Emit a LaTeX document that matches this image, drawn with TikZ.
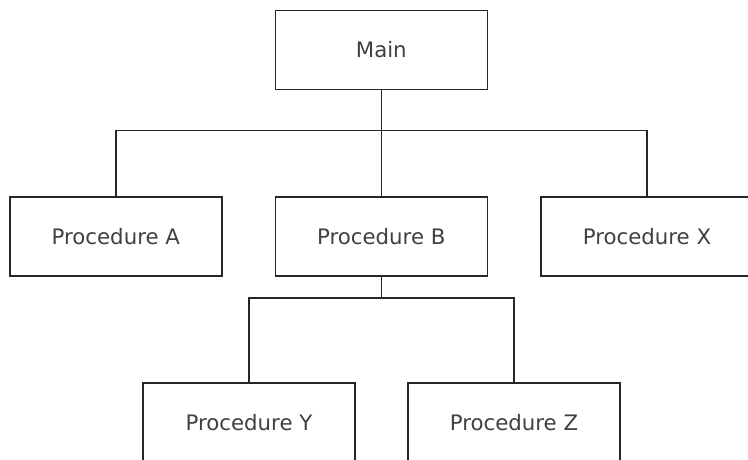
\documentclass[tikz,border=0pt]{standalone}
\usepackage{fontspec}
\setmainfont{DejaVu Sans}
\begin{document}
\begin{tikzpicture}[x=1pt,y=-1pt,
  procbox/.style={draw=black!85, line width=1.6pt, fill=white,
    minimum width=212pt, minimum height=79pt, inner sep=0pt,
    text=black!75, font=\fontsize{21.3pt}{25pt}\selectfont},
  link/.style={draw=black!85, line width=1.6pt}]
  \useasboundingbox (0,0) rectangle (748,459);
  \clip (0,0) rectangle (748,459);
  \fill[white] (0,0) rectangle (748,459);

  % boxes
  \node[procbox] (main) at (381.3,50)  {Main};
  \node[procbox] (pa)   at (115.8,236.3) {Procedure A};
  \node[procbox] (pb)   at (381.3,236.3) {Procedure B};
  \node[procbox] (px)   at (647.0,236.3) {Procedure X};
  \node[procbox] (py)   at (249.0,422.2) {Procedure Y};
  \node[procbox] (pz)   at (514.0,422.2) {Procedure Z};

  % bus lines
  \coordinate (bus1) at (381.3,130.5);
  \coordinate (bus2) at (381.3,298);

  \draw[link] (main.south) -- (pb.north);
  \draw[link] (pa.north) |- (bus1) -| (px.north);
  \draw[link] (pb.south) -- (bus2);
  \draw[link] (py.north) |- (bus2) -| (pz.north);
\end{tikzpicture}
\end{document}
